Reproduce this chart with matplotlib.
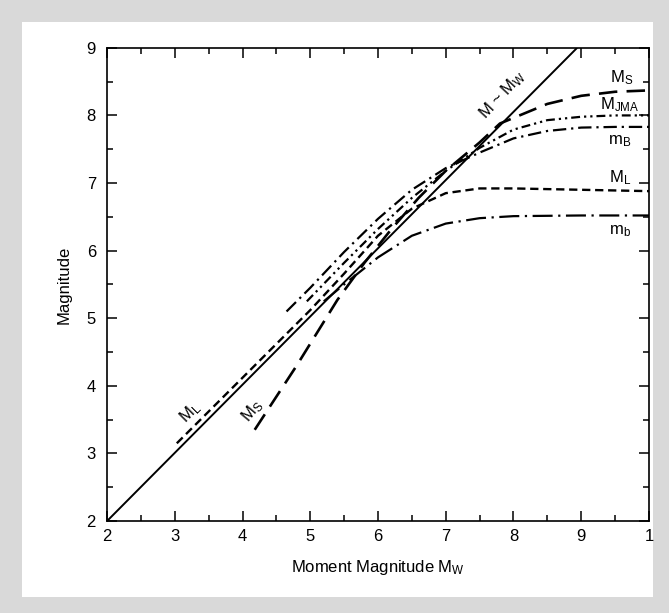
import matplotlib.pyplot as plt
from matplotlib.patches import Rectangle

plt.rcParams['font.family'] = ['Liberation Sans', 'DejaVu Sans']
plt.rcParams['mathtext.fontset'] = 'custom'
plt.rcParams['mathtext.rm'] = 'Liberation Sans'
plt.rcParams['mathtext.it'] = 'Liberation Sans'

# ---------- DATA ----------
mw_line = [2.0, 8.94]
m_line = [2.0, 9.0]

ms_x = [4.18, 4.8, 5.4, 5.8, 6.2, 6.6, 7.0, 7.5, 7.8, 8.5, 9.0, 9.5, 10.0]
ms_y = [3.35, 4.3, 5.27, 5.82, 6.32, 6.78, 7.18, 7.6, 7.88, 8.17, 8.29, 8.35, 8.37]

jma_x = [4.95, 5.5, 6.0, 6.5, 7.0, 7.5, 8.0, 8.5, 9.0, 9.5, 10.0]
jma_y = [5.25, 5.82, 6.32, 6.78, 7.18, 7.52, 7.79, 7.93, 7.98, 8.0, 8.0]

mB_x = [4.65, 5.0, 5.5, 6.0, 6.5, 7.0, 7.5, 8.0, 8.5, 9.0, 9.5, 10.0]
mB_y = [5.1, 5.45, 5.98, 6.47, 6.9, 7.22, 7.45, 7.66, 7.77, 7.82, 7.83, 7.83]

ml_x = [3.03, 4.0, 5.0, 5.5, 6.0, 6.5, 7.0, 7.5, 8.0, 9.0, 10.0]
ml_y = [3.15, 4.12, 5.12, 5.66, 6.22, 6.62, 6.85, 6.92, 6.92, 6.9, 6.88]

mb_x = [5.2, 5.5, 6.0, 6.5, 7.0, 7.5, 8.0, 9.0, 10.0]
mb_y = [5.25, 5.5, 5.9, 6.22, 6.4, 6.48, 6.51, 6.52, 6.52]

x_ticks = [2, 3, 4, 5, 6, 7, 8, 9, 10]
x_labels = ["2", "3", "4", "5", "6", "7", "8", "9", "1"]
y_ticks = [2, 3, 4, 5, 6, 7, 8, 9]

# ---------- FIGURE ----------
fig = plt.figure(figsize=(6.69, 6.13), dpi=100)
fig.patch.set_facecolor('#d9d9d9')
fig.patches.append(Rectangle((22 / 669, 16 / 613), 631 / 669, 575 / 613,
                             transform=fig.transFigure, facecolor='white',
                             edgecolor='none', zorder=-10))

ax = fig.add_axes([0.160, 0.150, 0.810, 0.772])
ax.set_facecolor('none')

ax.plot(mw_line, m_line, color='black', lw=1.4, solid_capstyle='butt')
ax.plot(ms_x, ms_y, color='black', lw=1.9, dashes=(7, 3.5))
ax.plot(jma_x, jma_y, color='black', lw=1.6, dashes=(4, 1.8, 1, 1.8, 1, 1.8))
ax.plot(mB_x, mB_y, color='black', lw=1.6, dashes=(6, 2.2, 1, 2.2))
ax.plot(ml_x, ml_y, color='black', lw=1.7, dashes=(3.5, 2))
ax.plot(mb_x, mb_y, color='black', lw=1.6, dashes=(9, 2.5, 1, 2.5))

ax.set_xlim(2, 10)
ax.set_ylim(2, 9)

# ---------- AXES ----------
ax.set_xticks(x_ticks)
ax.set_xticklabels(x_labels)
ax.set_yticks(y_ticks)
ax.set_xticks([x + 0.5 for x in x_ticks[:-1]], minor=True)
ax.set_yticks([y + 0.5 for y in y_ticks[:-1]], minor=True)
ax.tick_params(which='both', direction='in', top=True, right=True,
               width=1.1, labelsize=12)
ax.tick_params(which='major', length=7, pad=6)
ax.tick_params(which='minor', length=4)
ax.tick_params(axis='y', which='major', pad=8)
for s in ax.spines.values():
    s.set_linewidth(1.2)

ax.set_xlabel(r"Moment Magnitude M$_\mathregular{W}$", fontsize=12, labelpad=10)
ax.set_ylabel("Magnitude", fontsize=12, labelpad=11)

# ---------- LABELS ----------
ax.text(7.84, 8.3, r"M ~ M$_\mathregular{W}$", fontsize=12, rotation=47,
        ha='center', va='center', rotation_mode='anchor')
ax.text(9.6, 8.56, r"M$_\mathregular{S}$", fontsize=12, ha='center', va='center')
ax.text(9.57, 8.16, r"M$_\mathregular{JMA}$", fontsize=12, ha='center', va='center')
ax.text(9.57, 7.62, r"m$_\mathregular{B}$", fontsize=12, ha='center', va='center')
ax.text(9.57, 7.08, r"M$_\mathregular{L}$", fontsize=12, ha='center', va='center')
ax.text(9.57, 6.29, r"m$_\mathregular{b}$", fontsize=12, ha='center', va='center')
ax.text(3.23, 3.61, r"M$_\mathregular{L}$", fontsize=12, rotation=45,
        ha='center', va='center', rotation_mode='anchor')
ax.text(4.14, 3.63, r"M$_\mathregular{S}$", fontsize=12, rotation=50,
        ha='center', va='center', rotation_mode='anchor')

fig.savefig("out.png", dpi=100, facecolor=fig.get_facecolor())
